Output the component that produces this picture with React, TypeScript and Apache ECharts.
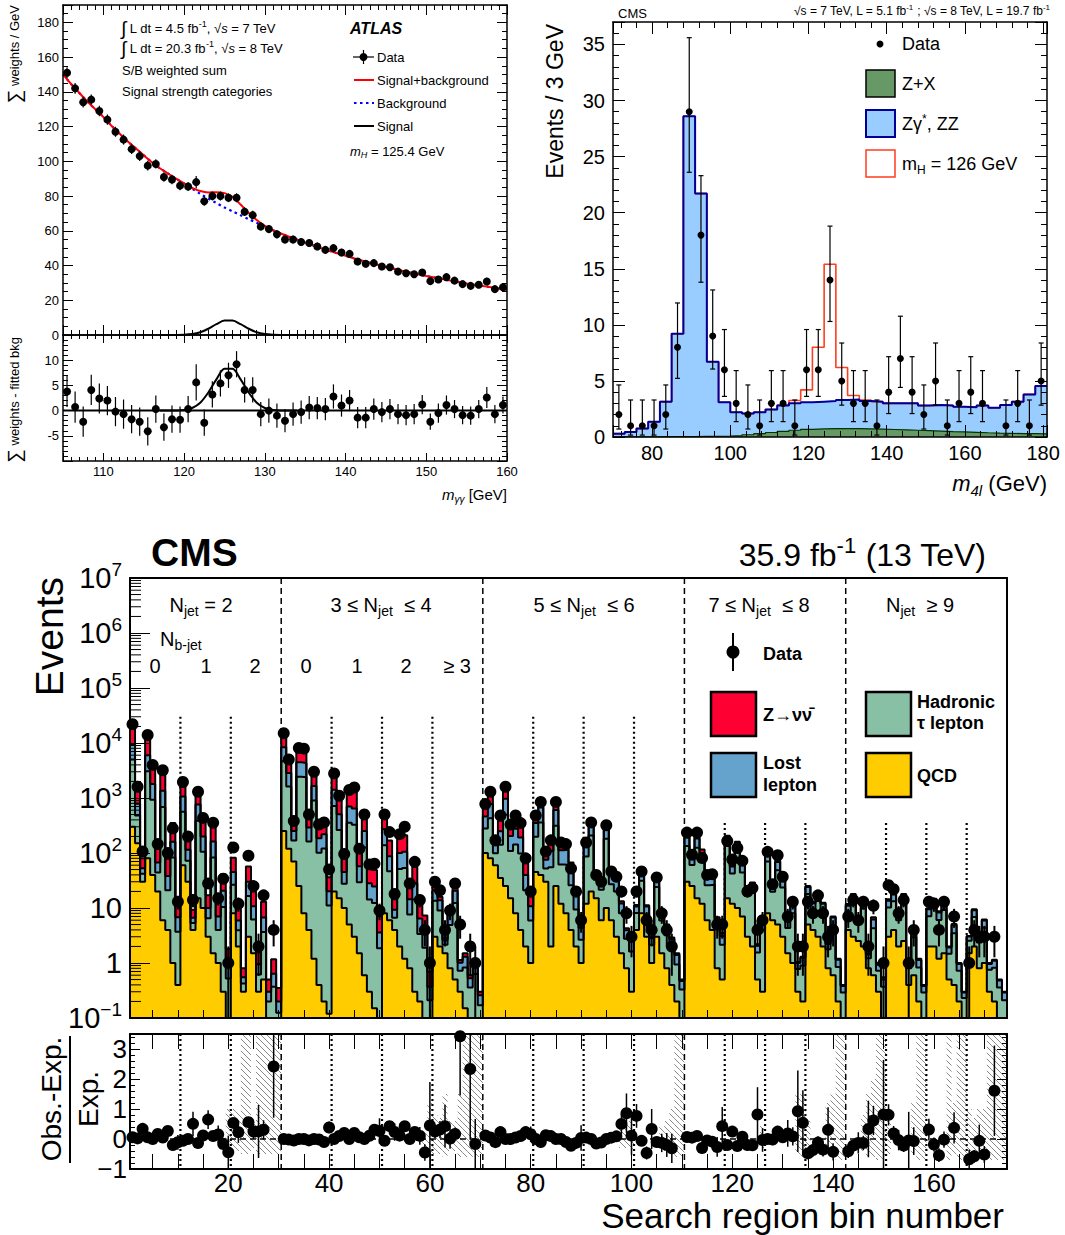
import React, { useEffect, useRef } from 'react';
import * as echarts from 'echarts';

const FONT = '"Liberation Sans", Arial, Helvetica, sans-serif';

/* ================= ATLAS  H -> gamma gamma ================= */
const atlasFirstBinCentre = 105.5;
const atlasBinWidth = 1;
const atlasWeights = [151, 142, 134, 135.5, 129, 124, 117, 112.5, 107, 103, 97.5, 98.5, 91, 89.5, 86, 85.5, 88, 77, 80, 80, 79, 79, 71, 69, 62.5,
  61, 58, 55, 55, 53.5, 53, 51, 49, 50, 47.5, 46.7, 42.3, 41, 41.4, 39.4, 39, 36.5, 35.6, 35, 36, 31, 32, 33.3, 31.3, 29.3, 28.3, 28.9, 30.8, 26.4, 27.5];
const atlasErrors = [3.1, 3.1, 3.0, 3.0, 3.0, 2.9, 2.9, 2.9, 2.8, 2.8, 2.8, 2.7, 2.7, 2.7, 2.6, 2.6, 3.6, 2.6, 2.6, 2.6,
  2.5, 2.6, 2.5, 2.5, 2.4, 2.4, 2.4, 2.3, 2.3, 2.3, 2.3, 2.2, 2.2, 2.4, 2.2, 2.1, 2.1, 2.1, 2.1, 2.0,
  2.0, 2.0, 2.0, 2.0, 1.9, 1.6, 1.9, 1.9, 1.8, 1.8, 1.8, 1.8, 2.1, 1.8, 1.7];
const atlasResiduals = [3.8, 0.7, -2.2, 4.1, 2.4, 2.0, -0.2, -0.7, -1.7, -2.2, -4.1, 0.3, -3.3, -1.7, -1.8, 0.3, 5.6, -2.4, 3.2, 5.4,
  7.0, 9.2, 4.1, 4.1, -0.7, 0, -1.0, -2.0, -0.7, -0.3, 0.6, 0.5, 0.3, 2.8, 1.0, 2.0, -1.4, -1.4, 0.3, -0.3,
  0.3, -0.7, -0.9, -0.7, 1.2, -2.2, -0.5, 1.1, 0.3, -0.9, -1.0, 0.3, 2.6, -0.7, 1.1];
const atlasCurveFirstMass = 105;
const atlasBackground = [150, 144.5, 139.5, 134.5, 130, 125.5, 120.5, 116, 111.5, 107.5, 103.5, 99.5, 96, 93, 90, 87.2, 84.2, 81.3, 78.5, 76,
  73.4, 71.2, 68.9, 66.7, 64.6, 62.3, 60.3, 58.4, 56.6, 54.9, 53.2, 51.6, 50.0, 48.5, 47.0, 45.6, 44.2, 42.9, 41.6, 40.4,
  39.2, 38.1, 37.0, 36.0, 35.0, 34.0, 33.1, 32.2, 31.3, 30.5, 29.7, 28.9, 28.2, 27.5, 26.8, 26.1];
const atlasSignalFirstMass = 117;
const atlasSignal = [0, 0, 0.02, 0.13, 0.52, 1.56, 3.6, 6.2, 8.3, 8.3, 6.2, 3.6, 1.56, 0.52, 0.13, 0.02, 0, 0];

/* ================= CMS  H -> ZZ -> 4l ================= */
const m4lFirstEdge = 70;
const m4lBinWidth = 3;
const m4lZX = [0.02, 0.02, 0.02, 0.02, 0.03, 0.03, 0.04, 0.05, 0.06, 0.08, 0.12, 0.2, 0.3, 0.4, 0.5, 0.6, 0.68, 0.72, 0.75, 0.75,
  0.74, 0.72, 0.7, 0.67, 0.64, 0.6, 0.56, 0.52, 0.48, 0.45, 0.42, 0.38, 0.35, 0.33, 0.3, 0.3, 0.28];
const m4lZZ = [0.28, 0.43, 0.73, 1.33, 3.12, 9.17, 28.56, 21.65, 6.64, 3.02, 2.08, 1.9, 1.9, 2.05, 2.3, 2.4, 2.42, 2.43, 2.45, 2.55,
  2.61, 2.48, 2.45, 2.33, 2.36, 2.4, 2.24, 2.33, 2.32, 2.25, 2.23, 2.42, 2.25, 2.52, 2.85, 3.5, 4.27];
const m4lHiggs = [0, 0, 0, 0, 0, 0, 0, 0, 0, 0, 0, 0, 0, 0, 0.05, 0.25, 1.1, 4.85, 12.2, 2.9,
  0.35, 0.1, 0, 0, 0, 0, 0, 0, 0, 0, 0, 0, 0, 0, 0, 0, 0];
const m4lCounts = [2, 1, 1, 1, 2, 8, 29, 18, 9, 6, 3, 2, 1, 3, 3, 1, 6, 6, 14, 5, 3, 3, 1, 4, 7, 4, 2, 5, 1, 3, 4, 3, 0, 1, 3, 1, 5];
const m4lErrLow = [0.71, 0.17, 0.17, 0.17, 0.71, 5.23, 23.6, 13.8, 6.06, 3.62, 1.37, 0.71, 0.17, 1.37, 1.37, 0.17, 3.62, 3.62, 10.3, 2.84,
  1.37, 1.37, 0.17, 2.09, 4.42, 2.09, 0.71, 2.84, 0.17, 1.37, 2.09, 1.37, 0, 0.17, 1.37, 0.17, 2.84];
const m4lErrHigh = [4.64, 3.3, 3.3, 3.3, 4.64, 11.95, 35.6, 23.3, 13.11, 9.58, 5.92, 4.64, 3.3, 5.92, 5.92, 3.3, 9.58, 9.58, 18.8, 8.38,
  5.92, 5.92, 3.3, 7.16, 10.77, 7.16, 4.64, 8.38, 3.3, 5.92, 7.16, 5.92, 0, 3.3, 5.92, 3.3, 8.38];

/* ================= CMS  SUSY search, 174 bins ================= */
const susyData = [
  22000, 1600, 107, 14000, 4000, 145, 3200, 100, 280, 13,
  1950, 200, 14, 1300, 435, 28, 355, 15, 34, 1,
  126, 12, 0, 89, 25, 2, 17, 0, 4, 0,
  15000, 5000, 380, 8100, 7900, 500, 3000, 330, 360, 50,
  2800, 1100, 96, 1400, 1550, 120, 500, 62, 64, 9,
  500, 240, 18, 220, 300, 28, 69, 14, 4, 1,
  30, 21, 4, 9, 28, 5, 0, 2, 1, 0,
  780, 1300, 170, 480, 1600, 330, 480, 350, 80, 20,
  480, 850, 107, 170, 850, 155, 145, 52, 20, 6,
  155, 360, 40, 30, 320, 46, 37, 20, 8, 3,
  20, 46, 6, 4, 36, 8, 4, 2, 0, 0,
  235, 93, 235, 81, 40, 41, 5, 5,
  165, 76, 123, 72, 20, 23, 4, 6,
  105, 27, 91, 37, 7, 13, 2, 2,
  13, 8, 17, 8, 3, 4, 0, 0,
  7, 14, 6, 13, 2, 11, 0, 1,
  26, 22, 8, 14, 1, 4, 0, 0,
  13, 12, 4, 13, 0, 7, 0, 0,
  1, 4, 3, 3, 0, 3, 0, 0];
const susyQCD = [
  300, 150, 30, 80, 40, 20, 6, 4, 1, 0.4,
  60, 30, 4, 15, 10, 3, 1.5, 1, 0.3, 0.1,
  8, 2, 0.3, 3, 1.5, 0.3, 0.5, 0.1, 0.1, 0.05,
  250, 120, 70, 25, 8, 4, 1.2, 0.4, 0.2, 0.12,
  20, 15, 10, 5, 3, 1.5, 0.6, 0.3, 0.15, 0.1,
  8, 6, 4, 2, 1.2, 0.8, 0.3, 0.2, 0.1, 0.05,
  3, 2, 1.5, 0.8, 0.5, 0.3, 0.15, 0.1, 0.05, 0.03,
  100, 80, 60, 35, 25, 15, 8, 4, 2, 1,
  45, 40, 30, 2, 25, 12, 8, 4, 2, 1,
  12, 20, 15, 6, 10, 6, 3, 1.5, 0.8, 0.3,
  4, 8, 3, 1, 3, 1.5, 0.8, 0.4, 0.2, 0.1,
  30, 25, 15, 12, 6, 4, 0.8, 0.5,
  15, 12, 10, 7, 3, 2, 0.5, 0.3,
  8, 6, 5, 3, 1.5, 1, 0.3, 0.2,
  5, 4, 3, 2, 0.8, 0.6, 0.2, 0.1,
  4, 3, 2.5, 2, 0.8, 0.6, 0.3, 0.1,
  3, 4, 2, 2.5, 0.4, 0.6, 0.2, 0.1,
  2, 2, 1.2, 1.5, 0.5, 0.4, 0.2, 0.1,
  1.5, 2, 0.8, 1, 0.3, 0.2, 0.1, 0.05];
const susyTau = [
  4700, 330, 12, 3000, 890, 24, 680, 17, 82, 3.3,
  502, 42.5, 1.32, 372, 95, 3.5, 81, 3, 10.1, 0.42,
  18.5, 1.95, 0.125, 13.5, 4.65, 0.32, 3.15, 0.1, 0.27, 0.075,
  4420, 1495, 99, 2420, 2370, 157, 900, 101, 120, 11,
  695, 247, 17.5, 349, 322, 28, 125, 14, 12.2, 1.75,
  130.5, 40.5, 2.65, 49, 52.3, 6.8, 14, 3.15, 1.8, 0.16,
  10.5, 7, 0.65, 4.1, 11.8, 0.42, 0.68, 0.26, 0.58, 0.14,
  180, 348, 39, 106, 473, 94, 134, 94, 19, 4.9,
  153, 317, 22.5, 53, 289, 50, 53, 22, 7.4, 1.66,
  74.8, 187, 17.6, 15.4, 171, 20.9, 17, 6.5, 1.95, 1.32,
  4.1, 23.3, 4.7, 1.14, 21, 4.4, 2.4, 1.42, 0.74, 0.23,
  104.5, 35.2, 109, 57.2, 19.8, 22.5, 3.3, 1.65,
  118.4, 30.4, 93, 37.2, 13.6, 16.7, 1.06, 3.66,
  62.2, 13.7, 43.5, 20.5, 2.84, 7, 0.48, 0.7,
  13, 5.66, 10.6, 6.8, 0.97, 4.2, 0.65, 0.19,
  4.7, 9, 2.66, 7.8, 0.42, 3.7, 0.42, 0.27,
  7.2, 9.2, 3.96, 9.8, 0.4, 2.34, 0.63, 0.19,
  5.1, 8.26, 4.87, 7.7, 0.97, 3.06, 0.52, 0.13,
  1.04, 4.87, 1.56, 3.38, 0.45, 0.62, 0.26, 0.16];
const susyLostLepton = [
  4500, 310, 11, 2900, 870, 23, 670, 17, 77, 3.1,
  503, 42.5, 1.33, 371, 95, 3.5, 80, 3, 10.2, 0.43,
  18.5, 1.95, 0.125, 13.5, 4.6, 0.33, 3.1, 0.1, 0.27, 0.075,
  3690, 1245, 83, 2020, 1970, 130, 750, 84, 100, 9,
  695, 246, 17.5, 349, 322, 28, 125, 13.9, 12.2, 1.75,
  130.5, 40.5, 2.65, 49, 52.2, 6.8, 13.9, 3.1, 1.8, 0.16,
  7.3, 4.9, 0.45, 2.8, 8.2, 0.29, 0.47, 0.17, 0.4, 0.09,
  180, 348, 39, 107, 472, 95, 135, 94, 19, 4.9,
  152, 316, 23, 54, 289, 50, 54, 22, 7.3, 1.7,
  47.6, 119, 11.2, 9.8, 108, 13.3, 10.9, 4.1, 1.2, 0.84,
  2.6, 14.4, 2.9, 0.7, 13, 2.7, 1.47, 0.88, 0.46, 0.14,
  57, 19.2, 60, 31.2, 10.8, 12.3, 1.8, 0.9,
  57.3, 14.7, 45, 18, 6.6, 8.1, 0.5, 1.77,
  29, 6.5, 20.4, 9.6, 1.3, 3.3, 0.22, 0.33,
  6, 2.6, 4.9, 3.1, 0.45, 1.9, 0.3, 0.09,
  2.3, 4.5, 1.3, 3.9, 0.21, 1.9, 0.21, 0.13,
  3.4, 4.4, 1.9, 4.6, 0.2, 1.1, 0.3, 0.09,
  2.4, 3.8, 2.25, 3.5, 0.45, 1.4, 0.24, 0.06,
  0.48, 2.25, 0.72, 1.56, 0.21, 0.28, 0.12, 0.08];
const susyZnunu = [
  11300, 780, 27, 7300, 2200, 57, 1700, 41, 190, 7.8,
  1005, 85, 2.65, 742, 190, 7, 160, 6, 20.4, 0.85,
  37, 3.9, 0.25, 27, 9.25, 0.65, 6.25, 0.2, 0.53, 0.15,
  6640, 2240, 149, 3630, 3550, 234, 1350, 151, 180, 16,
  1390, 492, 35, 697, 643, 56, 250, 27.8, 24.4, 3.5,
  261, 81, 5.3, 98, 104.5, 13.6, 27.8, 6.25, 3.6, 0.32,
  3.2, 2.1, 0.2, 1.2, 3.5, 0.12, 0.2, 0.07, 0.17, 0.04,
  240, 464, 52, 142, 630, 126, 180, 126, 25, 6.5,
  130, 271, 19.5, 46, 247, 43, 46, 19, 6.3, 1.44,
  13.6, 34, 3.2, 2.8, 31, 3.8, 3.1, 1.2, 0.35, 0.24,
  0.6, 3.3, 0.66, 0.16, 3, 0.6, 0.34, 0.2, 0.1, 0.03,
  28.5, 9.6, 30, 15.6, 5.4, 6.2, 0.9, 0.45,
  15.3, 3.9, 12, 4.8, 1.8, 2.2, 0.14, 0.47,
  5.8, 1.3, 4.1, 1.9, 0.26, 0.66, 0.04, 0.07,
  1, 0.44, 0.8, 0.5, 0.08, 0.3, 0.05, 0.02,
  0.8, 1.5, 0.44, 1.3, 0.07, 0.6, 0.07, 0.05,
  0.8, 1, 0.44, 1.1, 0.05, 0.26, 0.07, 0.02,
  0.4, 0.64, 0.38, 0.6, 0.08, 0.24, 0.04, 0.01,
  0.08, 0.38, 0.12, 0.26, 0.04, 0.05, 0.02, 0.01];
// systematic-uncertainty hatch in the ratio panel: [bin, low, high]
const susyUncBands = [
  [20, -0.5, 1.0], [21, -0.4, 1.0], [22, -0.4, 0.9], [23, -0.5, 3.5], [24, -0.5, 3.5], [25, -0.3, 0.5], [26, -0.5, 3.5], [27, -0.5, 3.5], [28, -0.5, 3.5], [29, -0.5, 3.5], [30, -0.5, 3.5],
  [59, -0.3, 0.4], [60, -0.6, 1.2], [61, -0.5, 0.8], [62, -0.5, 0.7], [63, -0.6, 1.5], [64, -0.4, 0.6], [65, -0.4, 0.6], [66, -0.6, 1.5], [67, -0.6, 3.5], [68, -0.6, 3.5], [69, -0.6, 3.5], [70, -0.6, 3.5],
  [98, -0.3, 0.5], [99, -0.3, 0.6], [100, -0.4, 0.8], [106, -0.3, 0.4], [107, -0.4, 0.6], [108, -0.5, 1.0], [109, -0.6, 3.5], [110, -0.6, 3.5],
  [126, -0.3, 0.5], [133, -0.5, 1.5], [134, -0.6, 1.5], [135, -0.4, 0.6], [139, -0.5, 1.2], [140, -0.5, 1.5], [141, -0.7, 3.5], [142, -0.7, 3.5],
  [146, -0.4, 0.8], [147, -0.6, 1.5], [148, -0.6, 2.0], [149, -0.7, 3.5], [150, -0.7, 3.5], [151, -0.5, 1.0],
  [156, -0.5, 1.2], [157, -0.7, 3.5], [158, -0.7, 3.5], [163, -0.7, 3.5], [164, -0.5, 1.2], [165, -0.7, 3.5], [166, -0.7, 3.5],
  [167, -0.5, 1.0], [168, -0.4, 0.7], [169, -0.5, 1.0], [170, -0.5, 1.0], [171, -0.7, 3.5], [172, -0.7, 3.5], [173, -0.7, 3.5], [174, -0.7, 3.5]];
const susyNjetEdges = [30.5, 70.5, 110.5, 142.5];
const susyNbEdgesLowNjet = [10.5, 20.5, 40.5, 50.5, 60.5, 80.5, 90.5, 100.5];
const susyNbEdgesHighNjet = [118.5, 126.5, 134.5, 150.5, 158.5, 166.5];

/* ================= helpers ================= */
function steps(vals: number[], lo: number, w: number, floor: number) {
  const out: number[][] = [];
  vals.forEach((v, i) => {
    const y = Math.max(v, floor);
    out.push([lo + i * w, y], [lo + (i + 1) * w, y]);
  });
  return out;
}

function richSet(size: number) {
  const lh = Math.round(size * 1.3);
  const sm = Math.round(size * 0.68);
  const slh = Math.round(size * 0.7);
  const c = { fontFamily: FONT, fill: '#000', color: '#000' };
  return {
    n: { ...c, fontSize: size, lineHeight: lh },
    i: { ...c, fontSize: size, lineHeight: lh, fontStyle: 'italic' },
    big: { ...c, fontSize: Math.round(size * 1.45), lineHeight: lh },
    sub: { ...c, fontSize: sm, lineHeight: slh, verticalAlign: 'bottom' },
    isub: { ...c, fontSize: sm, lineHeight: slh, verticalAlign: 'bottom', fontStyle: 'italic' },
    sup: { ...c, fontSize: sm, lineHeight: slh, verticalAlign: 'top' },
  };
}

function text(x: number, y: number, str: string, size: number, o: any = {}) {
  const align = o.align || 'left';
  const valign = o.valign || 'middle';
  const style: any = {
    text: str, fill: '#000', fontFamily: FONT, fontSize: size,
    fontWeight: o.bold ? 'bold' : 'normal', fontStyle: o.italic ? 'italic' : 'normal',
    align, verticalAlign: valign, textAlign: align, textVerticalAlign: valign,
  };
  if (o.rich) { style.rich = richSet(size); style.lineHeight = Math.round(size * 1.3); }
  return { type: 'text', x, y, rotation: o.rot || 0, z: 50, silent: true, style };
}
const gLine = (x1: number, y1: number, x2: number, y2: number, stroke: string, lw: number, dash?: number[]) =>
  ({ type: 'line', z: 50, silent: true, shape: { x1, y1, x2, y2 }, style: { stroke, lineWidth: lw, lineDash: dash || null } });
const gRect = (x: number, y: number, w: number, h: number, fill: string, stroke: string, lw: number) =>
  ({ type: 'rect', z: 50, silent: true, shape: { x, y, width: w, height: h }, style: { fill, stroke, lineWidth: lw } });
const gDot = (cx: number, cy: number, r: number) => ({ type: 'circle', z: 50, silent: true, shape: { cx, cy, r }, style: { fill: '#000' } });

function line(xi: number, yi: number, data: number[][], color: string, width: number, o: any = {}) {
  const s: any = {
    type: 'line', xAxisIndex: xi, yAxisIndex: yi, data, symbol: 'none', showSymbol: false, silent: true,
    smooth: o.smooth || false, z: o.z || 2, lineStyle: { color, width, type: o.dash || 'solid' },
    emphasis: { disabled: true }, animation: false,
  };
  if (o.fill) s.areaStyle = { color: o.fill, opacity: 1, origin: 'start' };
  return s;
}
function dots(xi: number, yi: number, data: number[][], size: number) {
  return { type: 'scatter', xAxisIndex: xi, yAxisIndex: yi, data, symbol: 'circle', symbolSize: size, silent: true, z: 4, clip: true,
    itemStyle: { color: '#000', opacity: 1 }, emphasis: { disabled: true } };
}
function errBars(xi: number, yi: number, data: number[][], width: number, cap: number) {
  return {
    type: 'custom', xAxisIndex: xi, yAxisIndex: yi, data, clip: true, silent: true, z: 3,
    renderItem: (_p: any, api: any) => {
      const x = api.value(0);
      const a = api.coord([x, api.value(1)]);
      const b = api.coord([x, api.value(2)]);
      const children: any[] = [{ type: 'line', shape: { x1: a[0], y1: a[1], x2: b[0], y2: b[1] }, style: { stroke: '#000', lineWidth: width } }];
      if (cap > 0) {
        children.push({ type: 'line', shape: { x1: a[0] - cap, y1: a[1], x2: a[0] + cap, y2: a[1] }, style: { stroke: '#000', lineWidth: width } });
        children.push({ type: 'line', shape: { x1: b[0] - cap, y1: b[1], x2: b[0] + cap, y2: b[1] }, style: { stroke: '#000', lineWidth: width } });
      }
      return { type: 'group', children };
    },
  };
}
// data: [x1, y1, x2, y2, kind]   kind 0 = dashed, 1 = dotted
function segs(xi: number, yi: number, data: number[][]) {
  return {
    type: 'custom', xAxisIndex: xi, yAxisIndex: yi, data, clip: true, silent: true, z: 1,
    renderItem: (_p: any, api: any) => {
      const a = api.coord([api.value(0), api.value(1)]);
      const b = api.coord([api.value(2), api.value(3)]);
      const kind = api.value(4);
      return { type: 'line', shape: { x1: a[0], y1: a[1], x2: b[0], y2: b[1] },
        style: { stroke: '#000', lineWidth: kind === 1 ? 2.2 : 1.5, lineDash: kind === 1 ? [2, 3] : [6, 4] } };
    },
  };
}
function hatch(xi: number, yi: number, data: number[][]) {
  return {
    type: 'custom', xAxisIndex: xi, yAxisIndex: yi, data, clip: true, silent: true, z: 1,
    renderItem: (_p: any, api: any) => {
      const b = api.value(0);
      const p0 = api.coord([b - 0.5, api.value(2)]);
      const p1 = api.coord([b + 0.5, api.value(1)]);
      const x0 = p0[0], y0 = p0[1], x1 = p1[0], y1 = p1[1];
      const step = 6;
      const children: any[] = [];
      for (let k = Math.ceil((y0 - x1) / step) * step; k <= y1 - x0; k += step) {
        const xa = Math.max(x0, y0 - k), xb = Math.min(x1, y1 - k);
        if (xb > xa) children.push({ type: 'line', shape: { x1: xa, y1: xa + k, x2: xb, y2: xb + k }, style: { stroke: '#888', lineWidth: 1 } });
      }
      return { type: 'group', children };
    },
  };
}

function axis(grid: number, position: string, o: any) {
  return {
    type: o.type || 'value', gridIndex: grid, position, min: o.min, max: o.max, interval: o.interval, splitNumber: o.splitNumber,
    logBase: o.type === 'log' ? 10 : undefined, z: 5, silent: true,
    axisLine: { show: true, onZero: false, lineStyle: { color: '#000', width: o.lw || 1.5 } },
    axisTick: { show: !!o.tick, inside: true, length: o.tick || 0, lineStyle: { color: '#000', width: 1 } },
    minorTick: { show: !!o.minor, splitNumber: o.minorSplit || 5, length: o.minor || 0, lineStyle: { color: '#000', width: 1 } },
    axisLabel: o.label ? { show: true, formatter: o.label, fontFamily: FONT, fontSize: o.fs, color: '#000', margin: o.margin, rich: o.rich } : { show: false },
    splitLine: { show: false }, minorSplitLine: { show: false },
  };
}

function buildOption() {
  const series: any[] = [];

  /* ---- ATLAS ---- */
  const atlasPts = atlasWeights.map((v, i) => [atlasFirstBinCentre + i * atlasBinWidth, v]);
  const atlasErr = atlasWeights.map((v, i) => [atlasFirstBinCentre + i * atlasBinWidth, v - atlasErrors[i], v + atlasErrors[i]]);
  const resPts = atlasResiduals.map((v, i) => [atlasFirstBinCentre + i * atlasBinWidth, v]);
  const resErr = atlasResiduals.map((v, i) => [atlasFirstBinCentre + i * atlasBinWidth, v - atlasErrors[i], v + atlasErrors[i]]);
  const sigAt = (m: number) => { const j = m - atlasSignalFirstMass; return j >= 0 && j < atlasSignal.length ? atlasSignal[j] : 0; };
  const bkgLine = atlasBackground.map((v, i) => [atlasCurveFirstMass + i, v]);
  const sbLine = atlasBackground.map((v, i) => [atlasCurveFirstMass + i, v + sigAt(atlasCurveFirstMass + i)]);
  const sigLine = atlasSignal.map((v, i) => [atlasSignalFirstMass + i, v]);
  const zeroLine = [[atlasCurveFirstMass, 0], [atlasCurveFirstMass + atlasBackground.length - 1, 0]];
  series.push(
    line(0, 0, bkgLine, '#0000ff', 2.2, { dash: [2.5, 3.5], smooth: 0.3 }),
    line(0, 0, sbLine, '#ff0000', 2, { smooth: 0.3 }),
    line(0, 0, sigLine, '#000', 2, { smooth: 0.3 }),
    errBars(0, 0, atlasErr, 1.2, 0),
    dots(0, 0, atlasPts, 8),
    line(2, 2, zeroLine, '#000', 2),
    line(2, 2, sigLine, '#000', 2, { smooth: 0.3 }),
    errBars(2, 2, resErr, 1.2, 0),
    dots(2, 2, resPts, 8),
  );

  /* ---- CMS 4l ---- */
  const bkgCum = m4lZZ.map((v, i) => v + m4lZX[i]);
  const higgsCum = bkgCum.map((v, i) => v + m4lHiggs[i]);
  const m4lPts: number[][] = [];
  const m4lErr: number[][] = [];
  m4lCounts.forEach((n, i) => {
    if (n > 0) {
      const x = m4lFirstEdge + (i + 0.5) * m4lBinWidth;
      m4lPts.push([x, n]);
      m4lErr.push([x, m4lErrLow[i], m4lErrHigh[i]]);
    }
  });
  series.push(
    line(4, 4, steps(higgsCum, m4lFirstEdge, m4lBinWidth, 0), '#ff3d1f', 1.6),
    line(4, 4, steps(bkgCum, m4lFirstEdge, m4lBinWidth, 0), '#000099', 2, { fill: '#99ccff' }),
    line(4, 4, steps(m4lZX, m4lFirstEdge, m4lBinWidth, 0), '#003300', 1.2, { fill: '#669966' }),
    errBars(4, 4, m4lErr, 1.2, 2.5),
    dots(4, 4, m4lPts, 7),
  );

  /* ---- CMS SUSY ---- */
  const c1 = susyQCD;
  const c2 = c1.map((v, i) => v + susyTau[i]);
  const c3 = c2.map((v, i) => v + susyLostLepton[i]);
  const c4 = c3.map((v, i) => v + susyZnunu[i]);
  const mainPts: number[][] = [], mainErr: number[][] = [], ratioPts: number[][] = [], ratioErr: number[][] = [];
  susyData.forEach((d, i) => {
    if (d > 0) {
      const b = i + 1;
      const s = Math.sqrt(d);
      mainPts.push([b, d]);
      mainErr.push([b, Math.max(d - s, 0.1), d + s]);
      const r = d / c4[i] - 1;
      ratioPts.push([b, r]);
      ratioErr.push([b, r - s / c4[i], r + s / c4[i]]);
    }
  });
  const mainLines: number[][] = [];
  susyNjetEdges.forEach((x) => mainLines.push([x, 1e7, x, 0.1, 0]));
  susyNbEdgesLowNjet.forEach((x) => mainLines.push([x, 3e4, x, 0.1, 1]));
  susyNbEdgesHighNjet.forEach((x) => mainLines.push([x, 350, x, 0.1, 1]));
  const ratioLines: number[][] = [[0.5, 0, 174.5, 0, 0]];
  susyNjetEdges.forEach((x) => ratioLines.push([x, 3.5, x, -1, 0]));
  susyNbEdgesLowNjet.concat(susyNbEdgesHighNjet).forEach((x) => ratioLines.push([x, 3.5, x, -1, 1]));
  const minorTickVals: number[][] = [];
  for (let k = -1; k < 7; k++) for (let m = 2; m < 10; m++) minorTickVals.push([0.5, m * Math.pow(10, k)]);

  series.push(
    segs(6, 6, mainLines),
    line(6, 6, steps(c4, 0.5, 1, 0.1), '#000', 2, { fill: '#ff0033' }),
    line(6, 6, steps(c3, 0.5, 1, 0.1), '#000', 2, { fill: '#66a3cc' }),
    line(6, 6, steps(c2, 0.5, 1, 0.1), '#000', 2, { fill: '#88c0a5' }),
    line(6, 6, steps(c1, 0.5, 1, 0.1), '#000', 2, { fill: '#ffcc00' }),
    errBars(6, 6, mainErr, 2, 0),
    dots(6, 6, mainPts, 12),
    {
      type: 'custom', xAxisIndex: 6, yAxisIndex: 6, data: minorTickVals, clip: false, silent: true, z: 6,
      renderItem: (_p: any, api: any) => {
        const p = api.coord([api.value(0), api.value(1)]);
        return { type: 'line', shape: { x1: p[0], y1: p[1], x2: p[0] + 11, y2: p[1] }, style: { stroke: '#000', lineWidth: 1 } };
      },
    },
    hatch(8, 8, susyUncBands),
    segs(8, 8, ratioLines),
    errBars(8, 8, ratioErr, 1.5, 0),
    dots(8, 8, ratioPts, 12),
  );

  const logRich = {
    b: { fontFamily: FONT, fontSize: 29, color: '#000', lineHeight: 36 },
    s: { fontFamily: FONT, fontSize: 19, color: '#000', lineHeight: 20, verticalAlign: 'top' },
  };
  const logFmt = (v: number) => {
    const e = Math.round(Math.log10(v));
    if (e === 0) return '1';
    if (e === 1) return '10';
    return '{b|10}{s|' + (e < 0 ? '\u2212' + -e : String(e)) + '}';
  };

  const xAxis = [
    axis(0, 'bottom', { min: 105, max: 160, splitNumber: 5, tick: 10, minor: 5, minorSplit: 10 }),
    axis(0, 'top', { min: 105, max: 160, splitNumber: 5, tick: 10, minor: 5, minorSplit: 10 }),
    axis(1, 'bottom', { min: 105, max: 160, splitNumber: 5, tick: 8, minor: 4, minorSplit: 10, fs: 13, margin: 4,
      label: (v: number) => (v % 10 === 0 && v >= 110 ? String(v) : '') }),
    axis(1, 'top', { min: 105, max: 160, splitNumber: 5, tick: 8, minor: 4, minorSplit: 10 }),
    axis(2, 'bottom', { min: 70, max: 181, splitNumber: 5, tick: 12, minor: 6, minorSplit: 5, fs: 20, margin: 6,
      label: (v: number) => (v % 20 === 0 ? String(v) : '') }),
    axis(2, 'top', { min: 70, max: 181, splitNumber: 5, tick: 12, minor: 6, minorSplit: 5 }),
    axis(3, 'bottom', { min: 0.5, max: 174.5, splitNumber: 9, tick: 8, minor: 8, minorSplit: 4, lw: 2 }),
    axis(3, 'top', { min: 0.5, max: 174.5, splitNumber: 9, lw: 2 }),
    axis(4, 'bottom', { min: 0.5, max: 174.5, splitNumber: 9, tick: 15, minor: 15, minorSplit: 4, lw: 2, fs: 26, margin: 1,
      label: (v: number) => (v % 20 === 0 ? String(v) : '') }),
    axis(4, 'top', { min: 0.5, max: 174.5, splitNumber: 9, tick: 15, minor: 15, minorSplit: 4, lw: 2 }),
  ];
  const yAxis = [
    axis(0, 'left', { min: 0, max: 190, interval: 20, tick: 10, minor: 5, minorSplit: 4, fs: 13, margin: 4,
      label: (v: number) => (v % 20 === 0 && v <= 180 ? String(v) : '') }),
    axis(0, 'right', { min: 0, max: 190, interval: 20, tick: 10, minor: 5, minorSplit: 4 }),
    axis(1, 'left', { min: -10, max: 15, interval: 5, tick: 10, minor: 5, minorSplit: 5, fs: 13, margin: 4,
      label: (v: number) => (v >= -5 && v <= 10 ? String(v) : '') }),
    axis(1, 'right', { min: -10, max: 15, interval: 5, tick: 10, minor: 5, minorSplit: 5 }),
    axis(2, 'left', { min: 0, max: 37, interval: 5, tick: 12, minor: 6, minorSplit: 5, fs: 20, margin: 8,
      label: (v: number) => (v <= 35 ? String(v) : '') }),
    axis(2, 'right', { min: 0, max: 37, interval: 5, tick: 12, minor: 6, minorSplit: 5 }),
    axis(3, 'left', { type: 'log', min: 0.1, max: 1e7, splitNumber: 8, tick: 20, lw: 2, fs: 29, margin: 8, label: logFmt, rich: logRich }),
    axis(3, 'right', { type: 'log', min: 0.1, max: 1e7, splitNumber: 8, lw: 2 }),
    axis(4, 'left', { min: -1, max: 3.5, interval: 1, tick: 10, minor: 5, minorSplit: 5, lw: 2, fs: 26, margin: 3,
      label: (v: number) => (v === -1 ? '\u22121' : v <= 3 ? String(v) : '') }),
    axis(4, 'right', { min: -1, max: 3.5, interval: 1, tick: 10, minor: 5, minorSplit: 5, lw: 2 }),
  ];

  const graphic: any[] = [
    /* ATLAS */
    text(14, 5, '{big|\u2211} weights / GeV', 13, { rot: Math.PI / 2, align: 'right', rich: true }),
    text(14, 337, '{big|\u2211} weights - fitted bkg', 13, { rot: Math.PI / 2, align: 'right', rich: true }),
    text(507, 494, '{i|m}{isub|\u03b3\u03b3} [GeV]', 15, { align: 'right', rich: true }),
    text(121, 28, '{big|\u222b} L dt = 4.5 fb{sup|-1}, \u221a{i|s} = 7 TeV', 13, { rich: true }),
    text(121, 48, '{big|\u222b} L dt = 20.3 fb{sup|-1}, \u221a{i|s} = 8 TeV', 13, { rich: true }),
    text(122, 70, 'S/B weighted sum', 13),
    text(122, 91, 'Signal strength categories', 13),
    text(350, 28, 'ATLAS', 16, { bold: true, italic: true }),
    gLine(353, 57, 374, 57, '#000', 1.2), gLine(363.5, 50, 363.5, 64, '#000', 1.2), gDot(363.5, 57, 4),
    text(377, 57, 'Data', 13),
    gLine(354, 80, 374, 80, '#ff0000', 2), text(377, 80, 'Signal+background', 13),
    gLine(354, 103, 374, 103, '#0000ff', 2.2, [2.5, 3.5]), text(377, 103, 'Background', 13),
    gLine(354, 126, 374, 126, '#000', 2), text(377, 126, 'Signal', 13),
    text(350, 151, '{i|m}{isub|H} = 125.4 GeV', 13, { rich: true }),

    /* CMS 4l */
    text(618, 13, 'CMS', 13),
    text(1050, 11, '\u221as = 7 TeV, L = 5.1 fb{sup|-1} ; \u221as = 8 TeV, L = 19.7 fb{sup|-1}', 12, { align: 'right', rich: true }),
    text(555, 24, 'Events / 3 GeV', 23, { rot: Math.PI / 2, align: 'right' }),
    text(1047, 483, '{i|m}{isub|4l} (GeV)', 22, { align: 'right', rich: true }),
    gDot(880, 44, 3.5), text(902, 44, 'Data', 18),
    gRect(866, 70, 29, 27, '#669966', '#000', 1.5), text(902, 84, 'Z+X', 18),
    gRect(866, 110, 29, 27, '#99ccff', '#000099', 2), text(902, 124, 'Z\u03b3{sup|*}, ZZ', 18, { rich: true }),
    gRect(866, 150, 29, 27, '#ffffff', '#ff3d1f', 1.5), text(902, 164, 'm{sub|H} = 126 GeV', 18, { rich: true }),

    /* CMS SUSY */
    text(151, 552, 'CMS', 39, { bold: true }),
    text(986, 555, '35.9 fb{sup|-1} (13 TeV)', 32, { align: 'right', rich: true }),
    text(49, 577, 'Events', 39, { rot: Math.PI / 2, align: 'right' }),
    text(51, 1099, 'Obs.-Exp.', 28, { rot: Math.PI / 2, align: 'center' }),
    gLine(70, 1036, 70, 1163, '#000', 2),
    text(88, 1099, 'Exp.', 28, { rot: Math.PI / 2, align: 'center' }),
    text(1004, 1215, 'Search region bin number', 35, { align: 'right' }),
    text(201, 605, 'N{sub|jet} = 2', 20, { align: 'center', rich: true }),
    text(381, 605, '3 \u2264 N{sub|jet}  \u2264 4', 20, { align: 'center', rich: true }),
    text(584, 605, '5 \u2264 N{sub|jet}  \u2264 6', 20, { align: 'center', rich: true }),
    text(759, 605, '7 \u2264 N{sub|jet}  \u2264 8', 20, { align: 'center', rich: true }),
    text(920, 605, 'N{sub|jet}  \u2265 9', 20, { align: 'center', rich: true }),
    text(160, 639, 'N{sub|b-jet}', 20, { rich: true }),
    text(155, 666, '0', 20, { align: 'center' }),
    text(206, 666, '1', 20, { align: 'center' }),
    text(255, 666, '2', 20, { align: 'center' }),
    text(306, 666, '0', 20, { align: 'center' }),
    text(357, 666, '1', 20, { align: 'center' }),
    text(406, 666, '2', 20, { align: 'center' }),
    text(457, 666, '\u2265 3', 20, { align: 'center' }),
    gLine(733, 633, 733, 671, '#000', 2), gDot(733, 652, 6.5),
    text(763, 654, 'Data', 18, { bold: true }),
    gRect(711, 692, 45, 44, '#ff0033', '#000', 2.5), text(763, 715, 'Z\u2192\u03bd\u03bd\u0304', 18, { bold: true }),
    gRect(711, 753, 45, 44, '#66a3cc', '#000', 2.5), text(763, 763, 'Lost', 18, { bold: true }), text(763, 785, 'lepton', 18, { bold: true }),
    gRect(866, 692, 45, 44, '#88c0a5', '#000', 2.5), text(917, 702, 'Hadronic', 18, { bold: true }), text(917, 723, '\u03c4 lepton', 18, { bold: true }),
    gRect(866, 753, 45, 44, '#ffcc00', '#000', 2.5), text(917, 776, 'QCD', 18, { bold: true }),
  ];

  const grids = [
    { left: 63, top: 5, width: 444, height: 330 },
    { left: 63, top: 335, width: 444, height: 126 },
    { left: 613, top: 22, width: 434, height: 415 },
    { left: 130, top: 578, width: 877, height: 440 },
    { left: 130, top: 1034, width: 877, height: 135 },
  ].map((g) => ({ ...g, containLabel: false, outerBoundsMode: 'none', show: false }));

  return { animation: false, backgroundColor: '#fff', grid: grids, xAxis, yAxis, series, graphic };
}

export default function App() {
  const ref = useRef<HTMLDivElement>(null);
  useEffect(() => {
    const chart = echarts.init(ref.current as HTMLDivElement, null, { renderer: 'svg' });
    chart.setOption(buildOption() as any);
    return () => chart.dispose();
  }, []);
  return <div ref={ref} style={{ position: 'absolute', left: 0, top: 0, width: 1065, height: 1235, background: '#fff' }} />;
}
